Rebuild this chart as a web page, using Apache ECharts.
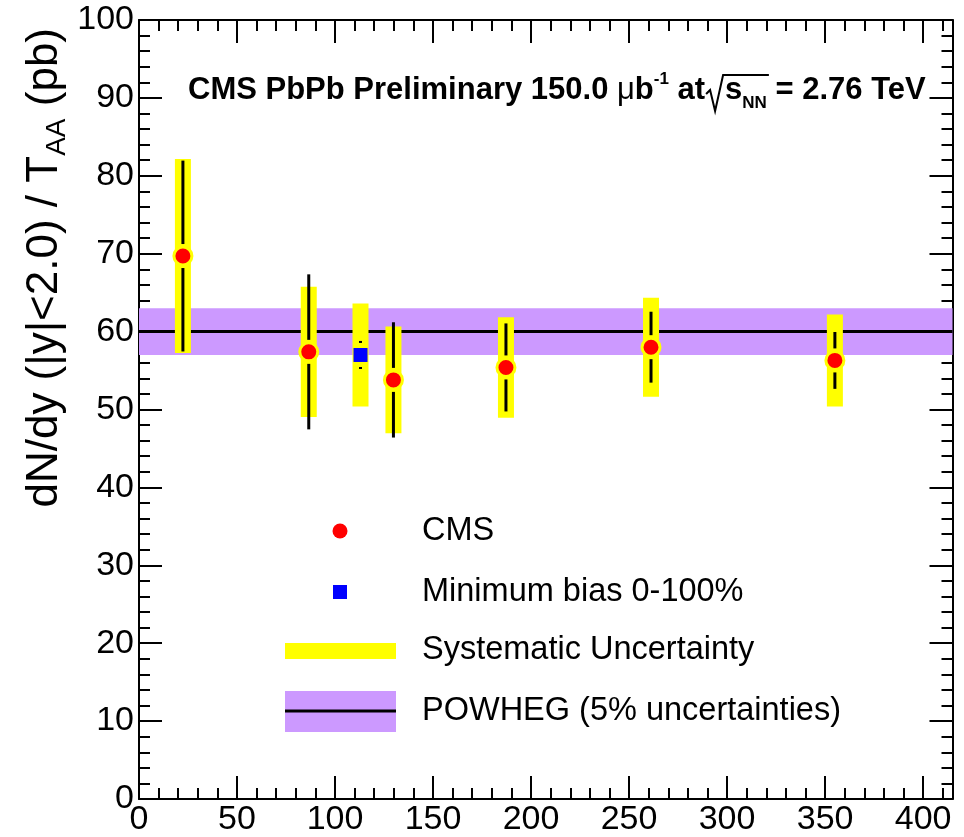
<!DOCTYPE html>
<html>
<head>
<meta charset="utf-8">
<script src="https://cdn.jsdelivr.net/npm/echarts@6/dist/echarts.min.js"></script>
<style>
  html, body { margin: 0; padding: 0; background: #fff; }
  #chart { width: 964px; height: 837px; }
</style>
</head>
<body>
<div id="chart"></div>
<script>
// Z yield per centrality bin versus number of participants
const npart     = [22.4, 86.6, 129.8, 187.2, 261.2, 355.0];
const yieldVals = [69.7, 57.4, 53.8, 55.4, 58.0, 56.3];
const statErr   = [12.25, 9.95, 7.4, 5.65, 4.55, 3.65];
const sysErr    = [12.45, 8.35, 6.85, 6.45, 6.35, 5.9];

// Minimum bias (0-100%) point
const mbNpart = [113.0];
const mbYield = [57.0];
const mbStat  = [1.8];
const mbSys   = [6.6];

// POWHEG prediction with its 5% band
const powhegX    = [0, 415];
const powhegY    = [60, 60];
const powhegLow  = 57;
const powhegHigh = 63;

// Axis ranges
const xMin = 0, xMax = 415;
const yMin = 0, yMax = 100;

const FONT = '"Liberation Sans", Arial, Helvetica, sans-serif';

// Use the narrow sans for the x tick labels when it is installed
const ctx = document.createElement('canvas').getContext('2d');
function measure(t, font) { ctx.font = font; return ctx.measureText(t).width; }
const hasNarrow = measure('400 WWW', '40px "Liberation Sans Narrow", monospace') !==
                  measure('400 WWW', '40px monospace');
const XLABEL_FONT = hasNarrow ? '"Liberation Sans Narrow", "Liberation Sans", sans-serif' : FONT;
const XLABEL_SIZE = hasNarrow ? 38 : 34;

const cmsData = npart.map((x, i) => [x, yieldVals[i], statErr[i], sysErr[i]]);
const mbData = mbNpart.map((x, i) => [x, mbYield[i], mbStat[i], mbSys[i]]);
const bandData = [[powhegX[0], powhegX[1], powhegLow, powhegHigh]];

// yellow systematic boxes
function renderSys(params, api) {
  const x = api.value(0), y = api.value(1), e = api.value(3);
  const top = api.coord([x, y + e]);
  const bot = api.coord([x, y - e]);
  return {
    type: 'rect',
    shape: { x: top[0] - 8, y: top[1], width: 16, height: bot[1] - top[1] },
    style: { fill: '#ffff00' }
  };
}

// statistical error bars, with a gap around the marker
function renderStat(params, api) {
  const x = api.value(0), y = api.value(1), e = api.value(2);
  const c = api.coord([x, y]);
  const t = api.coord([x, y + e]);
  const b = api.coord([x, y - e]);
  const gap = 12;
  const children = [];
  if (c[1] - gap > t[1]) {
    children.push({ type: 'line', shape: { x1: c[0], y1: t[1], x2: c[0], y2: c[1] - gap },
      style: { stroke: '#000', lineWidth: 3 } });
  }
  if (c[1] + gap < b[1]) {
    children.push({ type: 'line', shape: { x1: c[0], y1: c[1] + gap, x2: c[0], y2: b[1] },
      style: { stroke: '#000', lineWidth: 3 } });
  }
  return { type: 'group', children: children };
}

// POWHEG uncertainty band
function renderBand(params, api) {
  const p0 = api.coord([api.value(0), api.value(3)]);
  const p1 = api.coord([api.value(1), api.value(2)]);
  return {
    type: 'rect',
    shape: { x: p0[0], y: p0[1], width: p1[0] - p0[0], height: p1[1] - p0[1] },
    style: { fill: '#cc99ff' }
  };
}

const axisLineStyle = { color: '#000', width: 2 };

function xAxisDef(pos, interval, tickLen, withLabels, withLine) {
  return {
    type: 'value', min: xMin, max: xMax, interval: interval, position: pos,
    axisLine: { show: withLine, onZero: false, lineStyle: axisLineStyle },
    axisTick: { show: true, inside: true, length: tickLen, lineStyle: { color: '#000', width: 2 } },
    axisLabel: {
      show: withLabels, color: '#000', fontSize: XLABEL_SIZE, fontFamily: XLABEL_FONT, margin: 4,
      formatter: v => (v % 50 === 0 ? String(v) : '')
    },
    splitLine: { show: false }
  };
}

function yAxisDef(pos, withLabels) {
  return {
    type: 'value', min: yMin, max: yMax, interval: 10, position: pos,
    axisLine: { show: true, onZero: false, lineStyle: axisLineStyle },
    axisTick: { show: true, inside: true, length: 23, lineStyle: { color: '#000', width: 2 } },
    minorTick: { show: true, splitNumber: 5, length: 11, lineStyle: { color: '#000', width: 2 } },
    axisLabel: { show: withLabels, color: '#000', fontSize: 34, fontFamily: FONT, margin: 5 },
    splitLine: { show: false }
  };
}

// Title pieces, laid out with measured widths
function textWidth(t, size, bold) {
  return measure(t, (bold ? 'bold ' : '') + size + 'px ' + FONT);
}
const titleParts = [
  { t: 'CMS PbPb Preliminary 150.0 ', size: 31, bold: true, dy: 0 },
  { t: '\u03bc', size: 31, bold: false, dy: 0 },
  { t: 'b', size: 31, bold: true, dy: 0 },
  { t: '-1', size: 17, bold: true, dy: -11 },
  { t: ' at', size: 31, bold: true, dy: 0 },
  { radical: true, w: 20 },
  { t: 's', size: 31, bold: true, dy: 0 },
  { t: 'NN', size: 17, bold: true, dy: 13 },
  { t: ' = 2.76 TeV', size: 31, bold: true, dy: 0 }
];
const titleY = 90;
let cx = 188;
const titleEls = [];
let radStart = 0, overEnd = 0;
titleParts.forEach(p => {
  if (p.radical) {
    radStart = cx;
    cx += p.w;
    return;
  }
  titleEls.push({
    type: 'text', x: cx, y: titleY + p.dy, z: 100,
    style: { text: p.t, fill: '#000', fontSize: p.size, fontWeight: p.bold ? 'bold' : 'normal',
      fontFamily: FONT, align: 'left', verticalAlign: 'middle' }
  });
  cx += textWidth(p.t, p.size, p.bold);
  if (p.t === 'NN') overEnd = cx + 2;
});
titleEls.push({
  type: 'polyline', z: 100,
  shape: { points: [[radStart + 1, 94], [radStart + 5, 90], [radStart + 10, 111],
    [radStart + 18, 75], [overEnd, 75]] },
  style: { stroke: '#000', lineWidth: 2, fill: null }
});

// Legend drawn as graphics
const legendX = 285, legendW = 111, legendTextX = 422;
const legendEls = [
  { type: 'circle', shape: { cx: 340, cy: 531, r: 7.5 }, style: { fill: '#ff0000' } },
  { type: 'rect', shape: { x: 333, y: 585, width: 14, height: 14 }, style: { fill: '#0000ff' } },
  { type: 'rect', shape: { x: legendX, y: 643, width: legendW, height: 16 }, style: { fill: '#ffff00' } },
  { type: 'rect', shape: { x: legendX, y: 691, width: legendW, height: 41 }, style: { fill: '#cc99ff' } },
  { type: 'line', shape: { x1: legendX, y1: 711, x2: legendX + legendW, y2: 711 }, style: { stroke: '#000', lineWidth: 3 } }
];
const legendTexts = [['CMS', 531], ['Minimum bias 0-100%', 592], ['Systematic Uncertainty', 650], ['POWHEG (5% uncertainties)', 711]];
legendTexts.forEach(([t, y]) => {
  legendEls.push({
    type: 'text', x: legendTextX, y: y,
    style: { text: t, fill: '#000', fontSize: 32.5, fontFamily: FONT, align: 'left', verticalAlign: 'middle' }
  });
});
legendEls.forEach(e => { e.z = 100; });

const chart = echarts.init(document.getElementById('chart'), null, { renderer: 'canvas' });
chart.setOption({
  animation: false,
  backgroundColor: '#fff',
  grid: { left: 139, right: 11.5, top: 20, bottom: 38, containLabel: false },
  xAxis: [
    xAxisDef('bottom', 50, 23, true, true),
    xAxisDef('bottom', 10, 11, false, false),
    xAxisDef('top', 50, 23, false, true),
    xAxisDef('top', 10, 11, false, false)
  ],
  yAxis: [
    yAxisDef('left', true),
    yAxisDef('right', false)
  ],
  series: [
    {
      type: 'custom', name: 'POWHEG band', renderItem: renderBand, data: bandData,
      encode: { x: [0, 1], y: [2, 3] }, z: 1, silent: true
    },
    {
      type: 'line', name: 'POWHEG', data: powhegX.map((x, i) => [x, powhegY[i]]),
      symbol: 'none', lineStyle: { color: '#000', width: 3 }, z: 2, silent: true
    },
    {
      type: 'custom', name: 'Systematic Uncertainty', renderItem: renderSys,
      data: cmsData.concat(mbData), encode: { x: 0, y: 1 }, z: 3, silent: true
    },
    {
      type: 'custom', name: 'stat', renderItem: renderStat,
      data: cmsData.concat(mbData), encode: { x: 0, y: 1 }, z: 4, silent: true
    },
    {
      type: 'scatter', name: 'Minimum bias 0-100%', data: mbData.map(d => [d[0], d[1]]),
      symbol: 'rect', symbolSize: 14, itemStyle: { color: '#0000ff', opacity: 1 }, z: 5, silent: true
    },
    {
      type: 'scatter', name: 'CMS', data: cmsData.map(d => [d[0], d[1]]),
      symbol: 'circle', symbolSize: 18,
      itemStyle: { color: '#ff0000', borderColor: '#ffff00', borderWidth: 3, opacity: 1 }, z: 6, silent: true
    }
  ],
  graphic: [
    {
      type: 'text', x: 45, y: 28, rotation: Math.PI / 2, z: 100,
      style: {
        text: '{a|dN/dy (|y|<2.0) / T}{s|AA}{a| (pb)}',
        align: 'right', verticalAlign: 'middle', fill: '#000',
        rich: {
          a: { fontSize: 44, fontFamily: FONT, fill: '#000', lineHeight: 52, verticalAlign: 'middle' },
          s: { fontSize: 28, fontFamily: FONT, fill: '#000', lineHeight: 52, verticalAlign: 'bottom' }
        }
      }
    }
  ].concat(titleEls, legendEls)
});
</script>
</body>
</html>
